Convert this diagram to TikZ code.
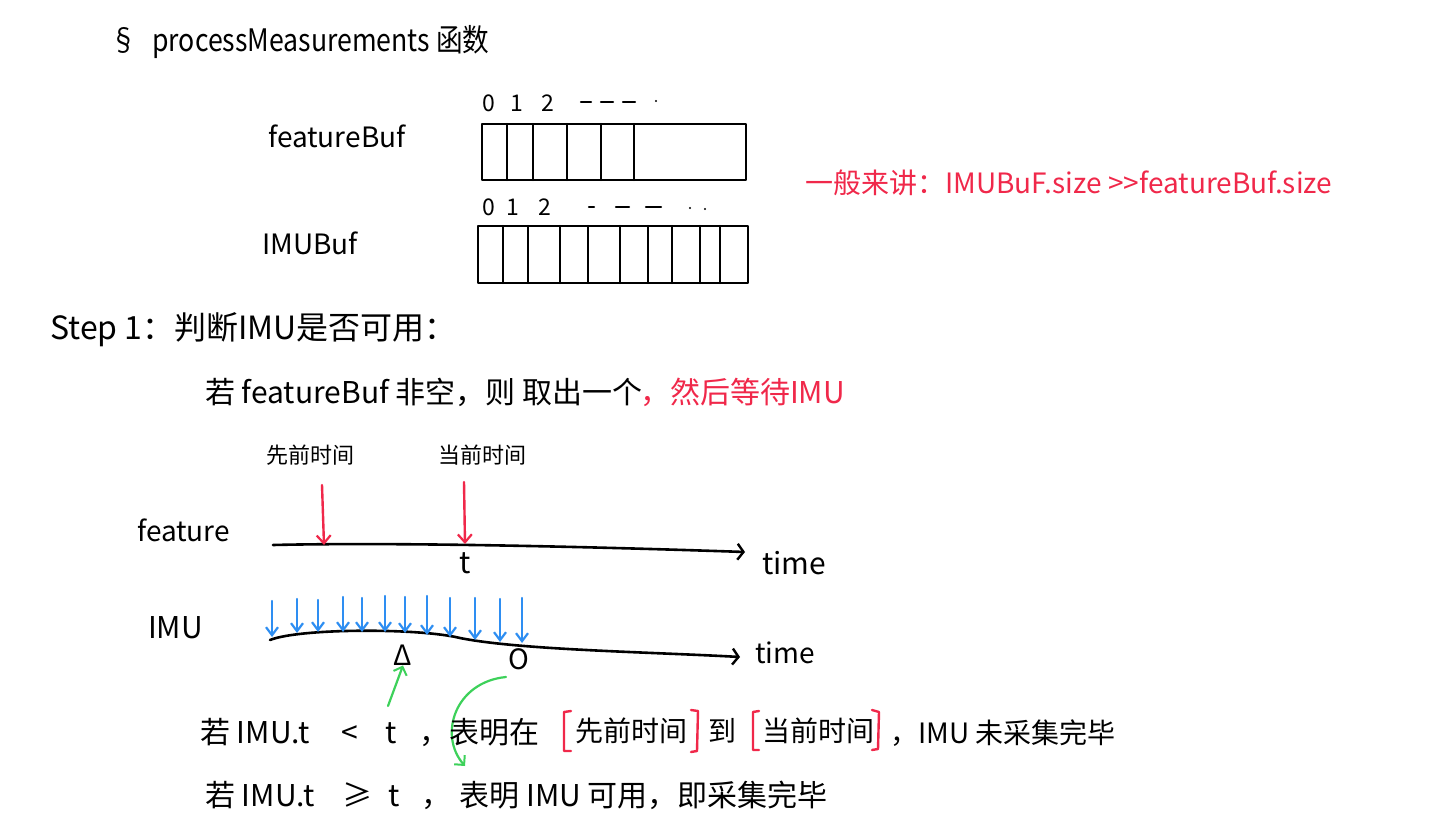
\documentclass[tikz,border=0pt]{standalone}
\usepackage{fontspec}
\usepackage{graphicx}
\setmainfont{Noto Sans CJK SC}
\usetikzlibrary{arrows.meta}
\definecolor{hred}{HTML}{F0284A}
\definecolor{hblue}{HTML}{2E8EF2}
\definecolor{hgreen}{HTML}{3DD15A}
\tikzset{
  fs/.style={font=\fontsize{#1}{#1}\selectfont},
  tw/.style={anchor=west, inner sep=0pt},
  tc/.style={anchor=center, inner sep=0pt},
  buf/.style={draw=black, line width=2.4pt},
  dsh/.style={draw=black, line width=2.2pt},
  tl/.style={draw=black, line width=2.6pt, -{Straight Barb[length=6pt,width=16pt,line width=2.4pt]}},
  rarr/.style={draw=hred, line width=2.4pt, -{Straight Barb[length=8pt,width=14pt,line width=2.2pt]}},
  barr/.style={draw=hblue, line width=2.4pt, -{Straight Barb[length=8pt,width=12pt,line width=2.2pt]}},
  garr/.style={draw=hgreen, line width=2.2pt, -{Straight Barb[length=7pt,width=14pt,line width=2pt]}},
  brk/.style={draw=hred, line width=2.4pt},
}
\begin{document}
\begin{tikzpicture}[x=1pt,y=-1pt,line cap=round,line join=round]
\fill[white] (0,0) rectangle (1443,834);
\useasboundingbox (0,0) rectangle (1443,834);

% title
\node[tw,fs=31] (title) at (110,42) {\scalebox{0.86}[1]{§\hspace{18pt}processMeasurements 函数}};

% buffers
\node[tw,fs=28] (fbl) at (268,136) {featureBuf};
\node[tw,fs=28] (ibl) at (262,243) {IMUBuf};

\draw[buf] (482,124) rectangle (746,180);
\foreach \x in {507,533,567,601,634} \draw[buf] (\x,124) -- (\x,180);
\node[tc,fs=23] (f0) at (489,103) {0};
\node[tc,fs=23] (f1) at (517,103) {1};
\node[tc,fs=23] (f2) at (548,103) {2};
\foreach \a/\b in {581/591, 601/613, 623/635} \draw[dsh] (\a,102) -- (\b,102);
\fill (656,101) circle (1.2pt);

\draw[buf] (478,226) rectangle (748,283);
\foreach \x in {503,528,560,588,620,648,672,700,720} \draw[buf] (\x,226) -- (\x,283);
\node[tc,fs=23] (i0) at (489,207) {0};
\node[tc,fs=23] (i1) at (513,207) {1};
\node[tc,fs=23] (i2) at (545,207) {2};
\foreach \a/\b in {589/594, 616/629, 646/661} \draw[dsh] (\a,207) -- (\b,207);
\fill (690,208) circle (1.2pt);
\fill (705,209) circle (1.2pt);

\node[tw,fs=28,text=hred] (note) at (805,183) {一般来讲：IMUBuF.size >{}>featureBuf.size};

% step 1
\node[tw,fs=32] (step) at (50,330) {Step 1：判断IMU是否可用：};
\node[tw,fs=30] (cond) at (205,392) {若 featureBuf 非空，则 取出一个};
\node[tw,fs=30,text=hred] (wait) at (640,392) {，然后等待IMU};

% feature timeline
\node[tc,fs=22] (prev) at (310,455) {先前时间};
\node[tc,fs=22] (cur) at (482,455) {当前时间};
\node[tw,fs=28] (feat) at (137,530) {feature};
\coordinate (fs) at (273,545);
\coordinate (fe) at (745,552);
\draw[tl] (fs) .. controls (400,542) and (600,547) .. (fe);
\node[tw,fs=30] (time1) at (762,563) {time};
\node[tc,fs=30] (tlab) at (465,563) {t};
\coordinate (p1) at (322,485);
\coordinate (p2) at (324,545);
\coordinate (c1) at (464,482);
\coordinate (c2) at (465,544);
\draw[rarr] (p1) -- (p2);
\draw[rarr] (c1) -- (c2);

% IMU timeline
\node[tw,fs=30] (imu) at (148,628) {IMU};
\coordinate (is) at (270,640);
\coordinate (im) at (460,638);
\coordinate (ie) at (740,657);
\draw[tl] (is) .. controls (300,628) and (420,628) .. (im) .. controls (520,650) and (650,652) .. (ie);
\node[tw,fs=28] (time2) at (755,653) {time};
\foreach \x/\yb/\yt in {272/637/601, 297/633/599, 318/632/600, 343/632/597, 362/632/598, 385/632/596, 405/633/597, 427/635/596, 450/637/598, 475/640/598, 500/642/599, 522/643/598}
  \draw[barr] (\x,\yt) -- (\x,\yb);

\node[tc,fs=28] (tri) at (403,655) {Δ};
\node[tc,fs=28] (circ) at (519,659) {O};

\coordinate (g1) at (388,706);
\draw[garr] (g1) -- (tri.south);
\coordinate (g2s) at (506,677);
\coordinate (g2e) at (465,766);
\draw[garr] (g2s) .. controls (455,682) and (438,735) .. (g2e);

% line 1
\node[tw,fs=30] (l1a) at (200,732) {若 IMU.t\hspace{32pt}<\hspace{28pt}t\hspace{22pt}，表明在};
\node[tw,fs=28] (l1b) at (575,731) {先前时间};
\node[tw,fs=28] (l1c) at (708,731) {到};
\node[tw,fs=28] (l1d) at (762,731) {当前时间};
\node[tw,fs=28] (l1e) at (890,733) {，IMU 未采集完毕};
\draw[brk] (571,711) -- (564,712) -- (564,751) -- (571,751);
\draw[brk] (691,710) -- (698,711) -- (697,751) -- (691,752);
\draw[brk] (759,711) -- (753,712) -- (753,750) -- (759,750);
\draw[brk] (872,710) -- (879,712) -- (878,749) -- (872,750);

% line 2
\node[tw,fs=30] (l2) at (205,795) {若 IMU.t\hspace{28pt}≥\hspace{16pt}t\hspace{22pt}，\hspace{8pt}表明 IMU 可用，即采集完毕};
\end{tikzpicture}
\end{document}
